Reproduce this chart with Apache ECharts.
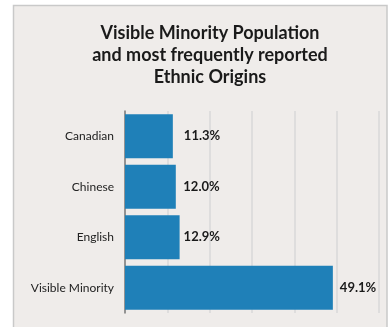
<!DOCTYPE html>
<html><head><meta charset="utf-8">
<script src="https://cdn.jsdelivr.net/npm/echarts@6/dist/echarts.min.js"></script>
<style>html,body{margin:0;padding:0;background:#fff;}#c{width:388px;height:327px;}</style>
</head><body><div id="c"></div>
<script>
var categories = ['Canadian', 'Chinese', 'English', 'Visible Minority'];
var values = [11.3, 12.0, 12.9, 49.1];
var labelGaps = [11, 7.5, 4, 7];
var axisMax = 60;
var axisInterval = 10;

var chart = echarts.init(document.getElementById('c'), null, {renderer: 'canvas'});
chart.setOption({
  animation: false,
  backgroundColor: '#ffffff',
  graphic: [{
    type: 'rect', z: -10, silent: true,
    shape: {x: 13.5, y: 5.5, width: 373.5, height: 340},
    style: {fill: '#efecea', stroke: '#c9c9c9', lineWidth: 1.5}
  }],
  title: {
    text: 'Visible Minority Population\nand most frequently reported\nEthnic Origins',
    left: 205, top: 17, textAlign: 'center',
    textStyle: {fontFamily: 'Lato', fontWeight: 'bold', fontSize: 18, lineHeight: 22, color: '#1a1a1a'}
  },
  grid: {left: 125, right: 9, top: 111, bottom: 14, containLabel: false},
  xAxis: {
    type: 'value', min: 0, max: axisMax, interval: axisInterval,
    axisLabel: {show: false}, axisLine: {show: false}, axisTick: {show: false},
    splitLine: {show: true, lineStyle: {color: '#d9d9d9', width: 1.5}}
  },
  yAxis: {
    type: 'category', data: categories, inverse: true,
    axisLine: {show: true, lineStyle: {color: '#7a7a7a', width: 1.5}},
    axisTick: {show: false},
    axisLabel: {fontFamily: 'Lato', fontSize: 12, color: '#222', margin: 11}
  },
  series: [{
    type: 'bar', barCategoryGap: '13%',
    data: values.map(function (v, i) {
      return {value: v, label: {distance: labelGaps[i]}};
    }),
    itemStyle: {color: '#1f80b8'},
    label: {
      show: true, position: 'right',
      formatter: function (p) { return p.value.toFixed(1) + '%'; },
      fontFamily: 'Lato', fontWeight: 'bold', fontSize: 13, color: '#1a1a1a'
    }
  }]
});
</script></body></html>
